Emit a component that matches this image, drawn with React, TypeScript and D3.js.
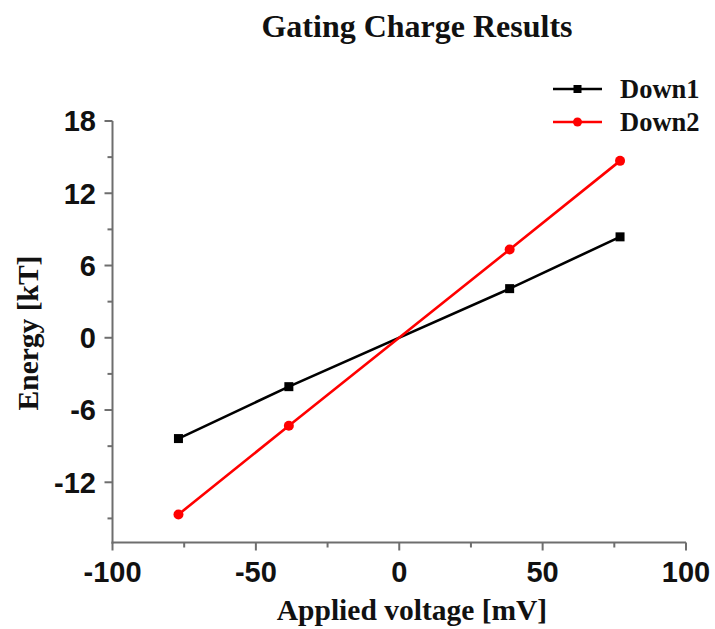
import React from "react";
import * as d3 from "d3";

// Applied voltage (mV) at each measurement
const voltages = [-77, -38.5, 38.5, 77];
// Energy (kT) for each series
const down1 = [-8.37, -4.06, 4.08, 8.38];
const down2 = [-14.67, -7.31, 7.33, 14.69];

const seriesNames = ["Down1", "Down2"];
const seriesColors = ["#000000", "#ff0000"];

const xMajorTicks = [-100, -50, 0, 50, 100];
const xMinorTicks = [-75, -25, 25, 75];
const yMajorTicks = [-12, -6, 0, 6, 12, 18];
const yMinorTicks = [-15, -9, -3, 3, 9, 15];

const W = 715;
const H = 629;
const left = 112.5;
const right = 686;
const top = 121;
const bottom = 542.5;

const serif = "'Liberation Serif', 'Times New Roman', serif";
const sans = "'Liberation Sans', Arial, sans-serif";
const axisColor = "#6e6e6e";

export default function App() {
  const x = d3.scaleLinear().domain([-100, 100]).range([left, right]);
  const y = d3.scaleLinear().domain([-17, 18]).range([bottom, top]);

  const line = d3
    .line<[number, number]>()
    .x((d) => x(d[0]))
    .y((d) => y(d[1]));

  const series = [down1, down2].map((vals) =>
    voltages.map((v, i) => [v, vals[i]] as [number, number])
  );

  return (
    <svg
      width={W}
      height={H}
      style={{ position: "absolute", left: 0, top: 0, background: "#fff" }}
    >
      {/* title */}
      <text
        x={417}
        y={37}
        textAnchor="middle"
        fontFamily={serif}
        fontWeight="bold"
        fontSize={32}
        fill="#111"
      >
        Gating Charge Results
      </text>

      {/* axes */}
      <g stroke={axisColor} strokeWidth={2}>
        <line x1={left} x2={left} y1={top} y2={bottom + 1} />
        <line x1={left - 1} x2={right} y1={bottom} y2={bottom} />
        {yMajorTicks.map((t) => (
          <line key={"ym" + t} x1={left - 8} x2={left} y1={y(t)} y2={y(t)} />
        ))}
        {yMinorTicks.map((t) => (
          <line key={"yn" + t} x1={left - 5} x2={left} y1={y(t)} y2={y(t)} />
        ))}
        {xMajorTicks.map((t) => (
          <line key={"xm" + t} x1={x(t)} x2={x(t)} y1={bottom} y2={bottom + 8} />
        ))}
        {xMinorTicks.map((t) => (
          <line key={"xn" + t} x1={x(t)} x2={x(t)} y1={bottom} y2={bottom + 5} />
        ))}
      </g>

      {/* tick labels */}
      <g fontFamily={sans} fontWeight="bold" fontSize={29} fill="#111">
        {yMajorTicks.map((t) => (
          <text key={"yl" + t} x={96} y={y(t)} dy="0.36em" textAnchor="end">
            {t}
          </text>
        ))}
        {xMajorTicks.map((t) => (
          <text key={"xl" + t} x={x(t)} y={582} textAnchor="middle">
            {t}
          </text>
        ))}
      </g>

      {/* axis titles */}
      <text
        x={412}
        y={620}
        textAnchor="middle"
        fontFamily={serif}
        fontWeight="bold"
        fontSize={29.5}
        fill="#111"
      >
        Applied voltage [mV]
      </text>
      <text
        transform={`translate(38,${333}) rotate(-90)`}
        textAnchor="middle"
        fontFamily={serif}
        fontWeight="bold"
        fontSize={29.5}
        fill="#111"
      >
        Energy [kT]
      </text>

      {/* series */}
      {series.map((pts, si) => (
        <g key={seriesNames[si]}>
          <path
            d={line(pts) || ""}
            fill="none"
            stroke={seriesColors[si]}
            strokeWidth={2.6}
          />
          {pts.map((p, i) =>
            si === 0 ? (
              <rect
                key={i}
                x={x(p[0]) - 4.5}
                y={y(p[1]) - 4.5}
                width={9}
                height={9}
                fill={seriesColors[si]}
              />
            ) : (
              <circle
                key={i}
                cx={x(p[0])}
                cy={y(p[1])}
                r={5}
                fill={seriesColors[si]}
              />
            )
          )}
        </g>
      ))}

      {/* legend */}
      {seriesNames.map((name, i) => {
        const ly = 89 + i * 33;
        return (
          <g key={"lg" + name}>
            <line
              x1={553}
              x2={602}
              y1={ly}
              y2={ly}
              stroke={seriesColors[i]}
              strokeWidth={2.6}
            />
            {i === 0 ? (
              <rect x={573.5} y={ly - 4} width={8} height={8} fill={seriesColors[i]} />
            ) : (
              <circle cx={577.5} cy={ly} r={4.5} fill={seriesColors[i]} />
            )}
            <text
              x={620}
              y={ly}
              dy="0.35em"
              fontFamily={serif}
              fontWeight="bold"
              fontSize={26.5}
              fill="#111"
            >
              {name}
            </text>
          </g>
        );
      })}
    </svg>
  );
}
